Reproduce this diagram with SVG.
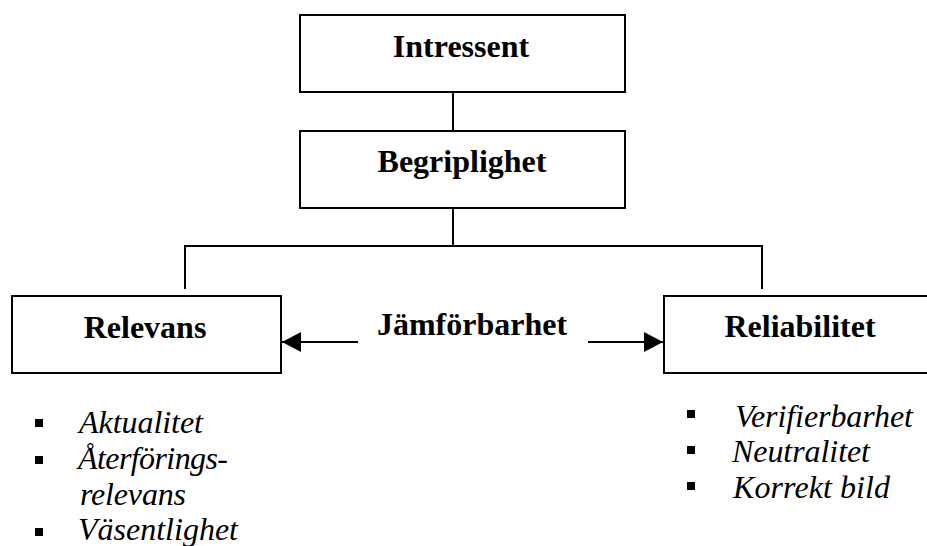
<svg xmlns="http://www.w3.org/2000/svg" width="927" height="546" viewBox="0 0 927 546">
<defs>
<style>
.box{fill:#fff;stroke:#000;stroke-width:2}
.ln{fill:none;stroke:#000;stroke-width:2}
.b{font-family:'Liberation Serif','Times New Roman','DejaVu Serif',serif;font-weight:bold;font-size:32px;fill:#000}
.i{font-family:'Liberation Serif','Times New Roman','DejaVu Serif',serif;font-style:italic;font-size:32px;fill:#000}
.bul{fill:#000}
</style>
<marker id="ah" markerWidth="20" markerHeight="20" refX="19" refY="10" orient="auto" markerUnits="userSpaceOnUse">
<path d="M0,0 L19,10 L0,20 Z" fill="#000"/>
</marker>
</defs>
<rect width="927" height="546" fill="#fff"/>
<g id="connectors">
<line class="ln" x1="453" y1="92" x2="453" y2="131"/>
<line class="ln" x1="453" y1="208" x2="453" y2="246"/>
<polyline class="ln" points="185,289 185,246 762,246 762,289"/>
<line class="ln" x1="358" y1="342" x2="282" y2="342" marker-end="url(#ah)"/>
<line class="ln" x1="588" y1="342" x2="663" y2="342" marker-end="url(#ah)"/>
</g>
<g id="intressent">
<rect class="box" x="300" y="15" width="325" height="77"/>
<text class="b" font-family="Liberation Serif, serif" x="461" y="57" text-anchor="middle">Intressent</text>
</g>
<g id="begriplighet">
<rect class="box" x="300" y="131" width="325" height="77"/>
<text class="b" font-family="Liberation Serif, serif" x="462" y="172" text-anchor="middle">Begriplighet</text>
</g>
<g id="relevans">
<rect class="box" x="12" y="296" width="269" height="77"/>
<text class="b" font-family="Liberation Serif, serif" x="145" y="338" text-anchor="middle">Relevans</text>
</g>
<g id="jamforbarhet">
<text class="b" font-family="Liberation Serif, serif" x="472" y="335" text-anchor="middle">Jämförbarhet</text>
</g>
<g id="reliabilitet">
<rect class="box" x="664" y="296" width="270" height="77"/>
<text class="b" font-family="Liberation Serif, serif" x="800" y="337" text-anchor="middle">Reliabilitet</text>
</g>
<g id="relevans-list">
<rect class="bul" x="35" y="419" width="8" height="8"/>
<rect class="bul" x="35" y="456" width="8" height="8"/>
<rect class="bul" x="35" y="528" width="8" height="8"/>
<text class="i" font-family="Liberation Serif, serif" x="79" y="433" textLength="124">Aktualitet</text>
<text class="i" font-family="Liberation Serif, serif" x="78" y="469" textLength="150">Återförings-</text>
<text class="i" font-family="Liberation Serif, serif" x="80" y="505" textLength="106">relevans</text>
<text class="i" font-family="Liberation Serif, serif" x="78" y="540" textLength="160">Väsentlighet</text>
</g>
<g id="reliabilitet-list">
<rect class="bul" x="687" y="410" width="8" height="8"/>
<rect class="bul" x="687" y="446" width="8" height="8"/>
<rect class="bul" x="687" y="482" width="8" height="8"/>
<text class="i" font-family="Liberation Serif, serif" x="735" y="427" textLength="178">Verifierbarhet</text>
<text class="i" font-family="Liberation Serif, serif" x="732" y="462" textLength="138">Neutralitet</text>
<text class="i" font-family="Liberation Serif, serif" x="733" y="498" textLength="157">Korrekt bild</text>
</g>
</svg>
